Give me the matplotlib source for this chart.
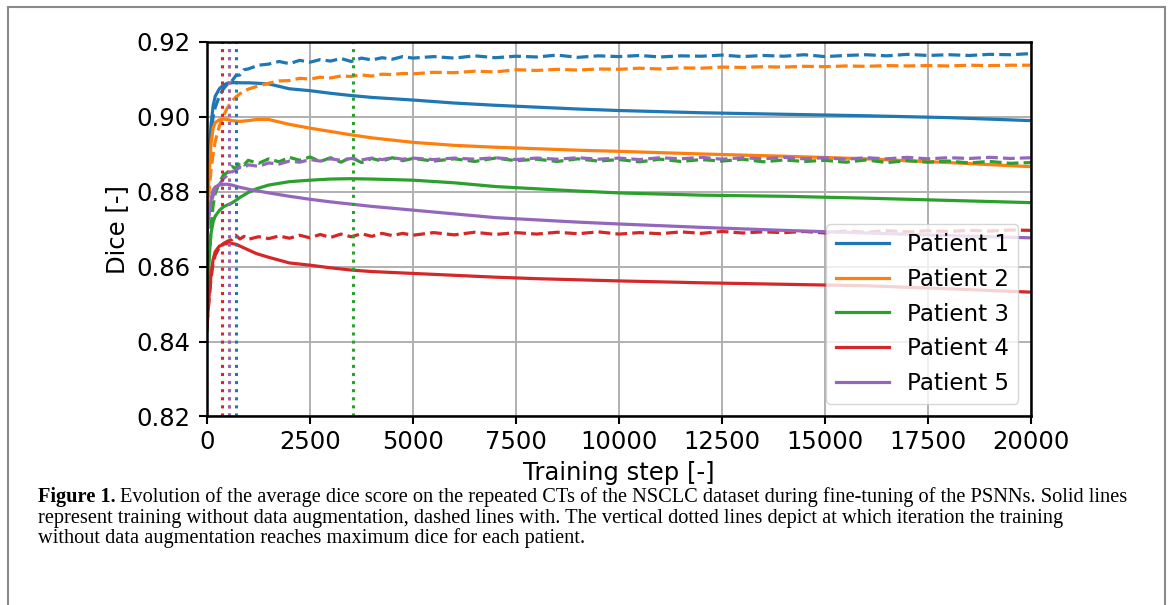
import numpy as np
import matplotlib.pyplot as plt
from matplotlib.patches import Rectangle

# training steps
x_solid = [0, 50, 100, 150, 200, 300, 400, 500, 600, 700, 800, 1000, 1200, 1500, 2000,
           2500, 3000, 3500, 4000, 5000, 6000, 7000, 8000, 9000, 10000, 12000, 14000,
           16000, 18000, 20000]
x_dash = ([0, 50, 100, 150, 200, 300, 400, 500, 600, 700, 800, 900, 1000]
          + list(range(1250, 5001, 250)) + list(range(5500, 20001, 500)))

# no augmentation (solid)
p1_solid = [0.875, 0.890, 0.898, 0.903, 0.9055, 0.9075, 0.9085, 0.9090, 0.9091, 0.9092, 0.9091,
            0.9091, 0.9090, 0.9088, 0.9075, 0.9070, 0.9063, 0.9057, 0.9052, 0.9045, 0.9037,
            0.9031, 0.9026, 0.9021, 0.9017, 0.9011, 0.9007, 0.9003, 0.8998, 0.8990]
p2_solid = [0.874, 0.884, 0.893, 0.897, 0.8985, 0.8992, 0.8994, 0.8993, 0.8990, 0.8989, 0.8988,
            0.8990, 0.8993, 0.8993, 0.8980, 0.8970, 0.8961, 0.8952, 0.8944, 0.8932, 0.8924,
            0.8919, 0.8915, 0.8911, 0.8908, 0.8901, 0.8895, 0.8888, 0.8878, 0.8867]
p3_solid = [0.843, 0.862, 0.869, 0.872, 0.8735, 0.8750, 0.8760, 0.8765, 0.8770, 0.8777, 0.8785,
            0.8798, 0.8808, 0.8818, 0.8827, 0.8831, 0.8834, 0.8835, 0.8834, 0.8831, 0.8824,
            0.8814, 0.8808, 0.8802, 0.8797, 0.8791, 0.8788, 0.8783, 0.8777, 0.8771]
p4_solid = [0.844, 0.852, 0.858, 0.862, 0.8640, 0.8655, 0.8660, 0.8662, 0.8662, 0.8660, 0.8655,
            0.8645, 0.8635, 0.8625, 0.8610, 0.8604, 0.8597, 0.8591, 0.8587, 0.8582, 0.8577,
            0.8572, 0.8568, 0.8565, 0.8562, 0.8557, 0.8553, 0.8549, 0.8541, 0.8532]
p5_solid = [0.869, 0.874, 0.878, 0.8805, 0.8813, 0.8818, 0.8820, 0.8820, 0.8818, 0.8815, 0.8812,
            0.8807, 0.8803, 0.8797, 0.8788, 0.8780, 0.8773, 0.8767, 0.8761, 0.8751, 0.8741,
            0.8731, 0.8725, 0.8719, 0.8714, 0.8705, 0.8697, 0.8690, 0.8683, 0.8677]

# with augmentation (dashed)
p1_dash = [0.875, 0.888, 0.896, 0.900, 0.9025, 0.9055, 0.9075, 0.9088, 0.9095, 0.9110, 0.9112, 0.9126, 0.9128,
           0.9138, 0.9141, 0.9148, 0.9142, 0.9151, 0.9146, 0.9153, 0.9149, 0.9156, 0.9148, 0.9157, 0.9152,
           0.9158, 0.9154, 0.9161, 0.9157,
           0.9161, 0.9157, 0.9163, 0.9158, 0.9162, 0.9160, 0.9165, 0.9159, 0.9163, 0.9161,
           0.9164, 0.9160, 0.9163, 0.9162, 0.9165, 0.9161, 0.9164, 0.9162, 0.9166, 0.9161,
           0.9164, 0.9166, 0.9163, 0.9167, 0.9164, 0.9166, 0.9164, 0.9167, 0.9166, 0.9169]
p2_dash = [0.874, 0.880, 0.886, 0.890, 0.8935, 0.8975, 0.9003, 0.9025, 0.9042, 0.9053, 0.9062, 0.9068, 0.9074,
           0.9083, 0.9090, 0.9096, 0.9097, 0.9103, 0.9101, 0.9106, 0.9104, 0.9109, 0.9108, 0.9112, 0.9109,
           0.9114, 0.9113, 0.9116, 0.9115,
           0.9119, 0.9118, 0.9122, 0.9120, 0.9126, 0.9124, 0.9127, 0.9125, 0.9128, 0.9127,
           0.9130, 0.9128, 0.9131, 0.9130, 0.9133, 0.9132, 0.9134, 0.9133, 0.9135, 0.9134,
           0.9136, 0.9135, 0.9137, 0.9136, 0.9137, 0.9136, 0.9138, 0.9137, 0.9138, 0.9138]
p3_dash = [0.843, 0.862, 0.871, 0.8765, 0.8795, 0.8825, 0.8845, 0.8852, 0.8868, 0.8862, 0.8878, 0.8872, 0.8884,
           0.8876, 0.8888, 0.8880, 0.8892, 0.8884, 0.8893, 0.8881, 0.8891, 0.8879, 0.8892, 0.8878, 0.8889,
           0.8882, 0.8891, 0.8883, 0.8889,
           0.8882, 0.8888, 0.8881, 0.8890, 0.8883, 0.8887, 0.8881, 0.8888, 0.8882, 0.8886,
           0.8880, 0.8887, 0.8881, 0.8886, 0.8882, 0.8887, 0.8880, 0.8885, 0.8881, 0.8884,
           0.8879, 0.8885, 0.8878, 0.8883, 0.8879, 0.8882, 0.8877, 0.8881, 0.8876, 0.8878]
p4_dash = [0.844, 0.851, 0.857, 0.861, 0.863, 0.8652, 0.8662, 0.8668, 0.8672, 0.8684, 0.8674, 0.8681, 0.8673,
           0.8680, 0.8675, 0.8682, 0.8676, 0.8684, 0.8677, 0.8686, 0.8678, 0.8687, 0.8680, 0.8688, 0.8681,
           0.8689, 0.8683, 0.8689, 0.8684,
           0.8691, 0.8685, 0.8692, 0.8686, 0.8691, 0.8687, 0.8692, 0.8688, 0.8693, 0.8687,
           0.8691, 0.8688, 0.8693, 0.8689, 0.8694, 0.8690, 0.8693, 0.8691, 0.8694, 0.8690,
           0.8695, 0.8692, 0.8696, 0.8693, 0.8696, 0.8694, 0.8697, 0.8695, 0.8698, 0.8697]
p5_dash = [0.869, 0.874, 0.877, 0.879, 0.8805, 0.8820, 0.8835, 0.8845, 0.8853, 0.8858, 0.8866, 0.8864, 0.8872,
           0.8868, 0.8877, 0.8874, 0.8882, 0.8879, 0.8886, 0.8882, 0.8888, 0.8884, 0.8889, 0.8885, 0.8890,
           0.8886, 0.8891, 0.8887, 0.8890,
           0.8886, 0.8890, 0.8887, 0.8891, 0.8886, 0.8890, 0.8887, 0.8891, 0.8887, 0.8890,
           0.8886, 0.8891, 0.8888, 0.8892, 0.8887, 0.8891, 0.8888, 0.8892, 0.8888, 0.8891,
           0.8887, 0.8891, 0.8888, 0.8892, 0.8888, 0.8891, 0.8889, 0.8892, 0.8889, 0.8891]

# step where solid curve peaks
best_step = [714, 534, 3555, 375, 534]

labels = ["Patient 1", "Patient 2", "Patient 3", "Patient 4", "Patient 5"]
colors = ["tab:blue", "tab:orange", "tab:green", "tab:red", "tab:purple"]
solids = [p1_solid, p2_solid, p3_solid, p4_solid, p5_solid]
dashes = [p1_dash, p2_dash, p3_dash, p4_dash, p5_dash]

fig = plt.figure(figsize=(11.68, 6.05), dpi=100)
ax = fig.add_axes([0.1772, 0.3116, 0.7055, 0.619])

for lab, c, ys, yd in zip(labels, colors, solids, dashes):
    ax.plot(x_solid, ys, color=c, lw=2.3, label=lab)
    ax.plot(x_dash, yd, color=c, lw=2.3, ls='--')
for c, s in zip(colors, best_step):
    ax.axvline(s, color=c, ls=':', lw=2.2)

fs = 17.5
ax.set_xlim(0, 20000)
ax.set_ylim(0.82, 0.92)
ax.set_yticks(np.arange(0.82, 0.921, 0.02))
ax.set_xticks(np.arange(0, 20001, 2500))
ax.yaxis.set_major_formatter(plt.FormatStrFormatter('%.2f'))
ax.tick_params(labelsize=fs, width=1.5, length=6)
ax.tick_params(axis='y', pad=6)
for sp in ax.spines.values():
    sp.set_linewidth(1.8)
ax.grid(True, color='#b0b0b0', lw=1.4)
ax.set_xlabel("Training step [-]", fontsize=fs, labelpad=5)
ax.set_ylabel("Dice [-]", fontsize=fs, labelpad=5)
ax.legend(loc='lower right', fontsize=16.6, handlelength=2.3, borderaxespad=0.55)

# page frame
fig.patches.append(Rectangle((8 / 1168, -0.1), 1157 / 1168, 1.1 - 7 / 605,
                             transform=fig.transFigure, fill=False,
                             edgecolor='#8a8a8a', lw=1.5))

# caption
cap_font = 'Liberation Serif'
cap_size = 14.7
r = fig.canvas.get_renderer()
t = fig.text(38 / 1168, 1 - 502 / 605, "Figure 1.", fontsize=cap_size, family=cap_font,
             weight='bold', va='baseline')
bb = t.get_window_extent(r)
fig.text((bb.x1 + 4) / 1168, 1 - 502 / 605,
         "Evolution of the average dice score on the repeated CTs of the NSCLC dataset during "
         "fine-tuning of the PSNNs. Solid lines",
         fontsize=cap_size, family=cap_font, va='baseline')
fig.text(38 / 1168, 1 - 522.5 / 605,
         "represent training without data augmentation, dashed lines with. The vertical dotted "
         "lines depict at which iteration the training",
         fontsize=cap_size, family=cap_font, va='baseline')
fig.text(38 / 1168, 1 - 543 / 605,
         "without data augmentation reaches maximum dice for each patient.",
         fontsize=cap_size, family=cap_font, va='baseline')

fig.savefig("out.png", dpi=100)
